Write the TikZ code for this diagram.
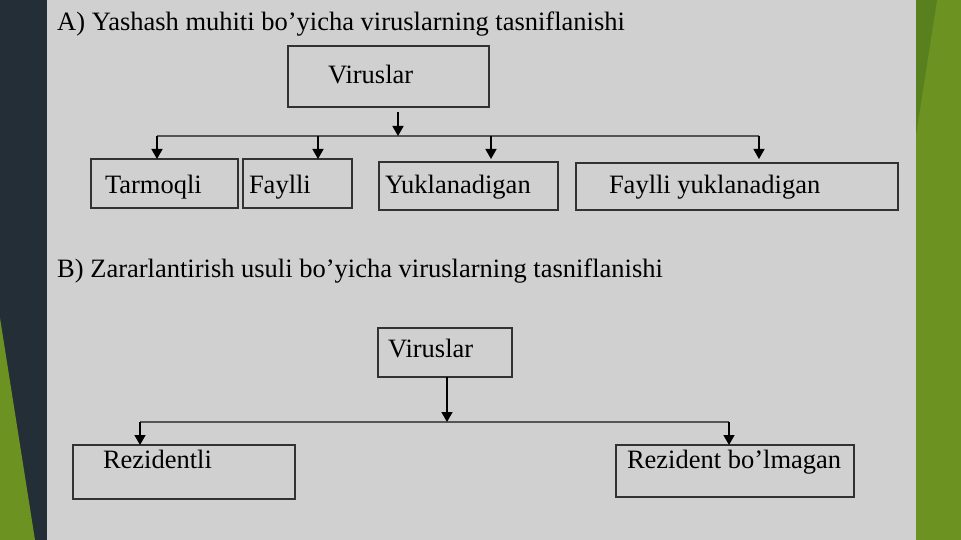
\documentclass[tikz,border=0pt]{standalone}
\usepackage{fontspec}
\setmainfont{Liberation Serif}
\usepackage{xcolor}
\usetikzlibrary{arrows.meta}

\definecolor{slate}{RGB}{36,46,54}
\definecolor{leaf}{RGB}{108,146,34}
\definecolor{leafdk}{RGB}{88,128,30}
\definecolor{paper}{RGB}{208,208,208}
\definecolor{edge}{RGB}{50,50,50}
\definecolor{bus}{RGB}{85,85,85}
\newcommand\slidefont{\fontsize{26.5}{31}\selectfont}

\tikzset{
  cls/.style={draw=edge, line width=1.1pt, anchor=north west, outer sep=0pt,
    inner ysep=0pt, align=flush left, font=\slidefont},
  ttl/.style={anchor=base west, inner sep=0pt, font=\slidefont},
  down/.style={-{Triangle[length=10pt,width=11pt]}, line width=1.4pt, black},
  busl/.style={draw=bus, line width=1.2pt}
}

\begin{document}
\begin{tikzpicture}[x=1pt,y=-1pt]
  \useasboundingbox (0,0) rectangle (961,540);
  \fill[slate] (0,0) rectangle (47,540);
  \fill[leaf] (0,318) -- (35,540) -- (0,540) -- cycle;
  \fill[paper] (47,0) rectangle (916,540);
  \fill[leaf] (916,0) rectangle (961,540);
  \fill[leafdk] (916,0) -- (937,0) -- (916,135) -- cycle;

  \node (ta) [ttl] at (57,31) {A) Yashash muhiti bo’yicha viruslarning tasniflanishi};
  \node (vira) [cls, inner xsep=40, text width=121, text height=38, text depth=23] at (288,46) {Viruslar};
  \node (tar) [cls, inner xsep=14, text width=119, text height=35, text depth=14] at (91,159) {Tarmoqli};
  \node (fay) [cls, inner xsep=6, text width=97, text height=35, text depth=14] at (243,159) {Faylli};
  \node (yuk) [cls, inner xsep=6, text width=167, text height=32, text depth=16] at (379,162) {Yuklanadigan};
  \node (fyk) [cls, inner xsep=33, text width=256, text height=31, text depth=16] at (576,163) {Faylli yuklanadigan};

  \coordinate (ba) at (398,136);
  \coordinate (b1) at (157,136);
  \coordinate (b2) at (318,136);
  \coordinate (b3) at (491,136);
  \coordinate (b4) at (759,136);
  \draw[busl] (b1) -- (b4);
  \draw[down, shorten <=5pt] (ba |- vira.south) -- (ba);
  \draw[down] (b1) -- (b1 |- tar.north);
  \draw[down] (b2) -- (b2 |- fay.north);
  \draw[down, shorten >=3pt] (b3) -- (b3 |- yuk.north);
  \draw[down, shorten >=4pt] (b4) -- (b4 |- fyk.north);

  \node (tb) [ttl] at (57,277) {B) Zararlantirish usuli bo’yicha viruslarning tasniflanishi};
  \node (virb) [cls, inner xsep=10, text width=114, text height=29, text depth=20] at (378,328) {Viruslar};
  \node (rez) [cls, inner xsep=30, text width=162, text height=23, text depth=31] at (73,445) {Rezidentli};
  \node (rbl) [cls, inner xsep=11, text width=216, text height=23, text depth=29] at (616,445) {Rezident bo’lmagan};

  \coordinate (bb) at (447,422);
  \coordinate (b5) at (140,422);
  \coordinate (b6) at (729,422);
  \draw[busl] (b5) -- (b6);
  \draw[down] (bb |- virb.south) -- (bb);
  \draw[down] (b5) -- (b5 |- rez.north);
  \draw[down] (b6) -- (b6 |- rbl.north);
\end{tikzpicture}
\end{document}
